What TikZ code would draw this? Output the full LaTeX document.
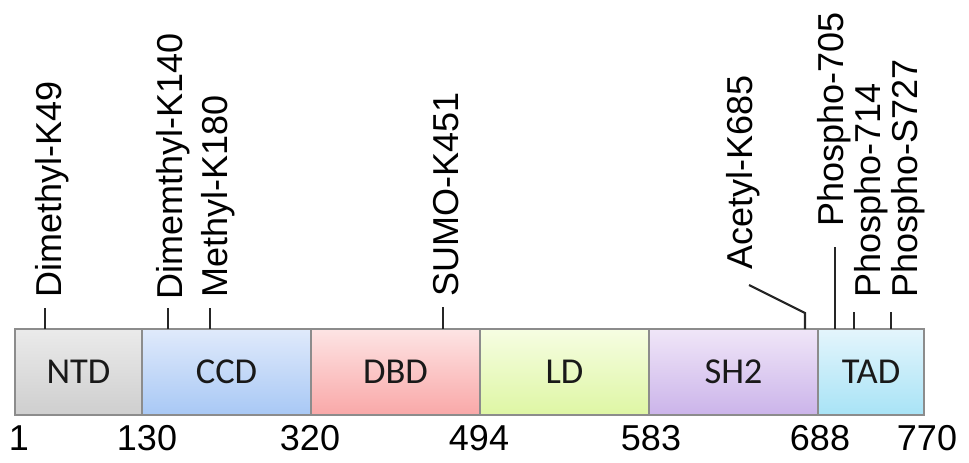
\documentclass[tikz,border=0pt]{standalone}
\usepackage{fontspec}
\setmainfont{Liberation Sans}
\newfontfamily\domfont{Carlito}
\begin{document}
\begin{tikzpicture}[x=1pt,y=-1pt,
  dom/.style={draw=black!45, line width=1.2pt, minimum height=86pt, inner sep=0pt,
     font=\domfont\fontsize{36.5}{40}\selectfont, text=black!90},
  ptm/.style={rotate=90, anchor=base west, inner sep=0pt, font=\fontsize{36}{40}\selectfont},
  num/.style={anchor=base, inner sep=0pt, font=\fontsize{36}{40}\selectfont},
  tick/.style={line width=2.2pt, draw=black!85}]
\useasboundingbox (0,0) rectangle (969,463);
% domains
\node[dom, top color=black!8, bottom color=black!19, minimum width=127pt] (ntd) at (78.5,372) {NTD};
\node[dom, top color={rgb,255:red,224;green,234;blue,251}, bottom color={rgb,255:red,168;green,200;blue,245}, minimum width=169pt] (ccd) at (226.5,372) {CCD};
\node[dom, top color={rgb,255:red,253;green,228;blue,228}, bottom color={rgb,255:red,249;green,168;blue,168}, minimum width=169pt] (dbd) at (395.5,372) {DBD};
\node[dom, top color={rgb,255:red,246;green,253;blue,226}, bottom color={rgb,255:red,222;green,246;blue,164}, minimum width=169pt] (ld) at (564.5,372) {LD};
\node[dom, top color={rgb,255:red,240;green,230;blue,248}, bottom color={rgb,255:red,203;green,180;blue,234}, minimum width=169pt] (sh2) at (733.5,372) {SH2};
\node[dom, top color={rgb,255:red,228;green,245;blue,252}, bottom color={rgb,255:red,168;green,227;blue,246}, minimum width=106pt] (tad) at (871,372) {TAD};
% positions
\node[num] (n1) at (19,450) {1};
\node[num] (n130) at (147,450) {130};
\node[num] (n320) at (310,450) {320};
\node[num] (n494) at (479,450) {494};
\node[num] (n583) at (651,450) {583};
\node[num] (n688) at (820,450) {688};
\node[num] (n770) at (927,450) {770};
% tick anchor points on the bar top
\coordinate (t49) at (45,329);
\coordinate (t140) at (168,329);
\coordinate (t180) at (210,329);
\coordinate (t451) at (443,329);
\coordinate (t685) at (805,329);
\coordinate (t705) at (835,329);
\coordinate (t714) at (854,329);
\coordinate (t727) at (891,329);
% labels
\node[ptm] (l49) at (61,298) {Dimethyl-K49};
\node[ptm] (l140) at (182,300) {Dimemthyl-K140};
\node[ptm] (l180) at (227,298) {Methyl-K180};
\node[ptm] (l451) at (458,297) {SUMO-K451};
\node[ptm] (l685) at (752,270) {Acetyl-K685};
\node[ptm] (l705) at (843,227) {Phospho-705};
\node[ptm] (l714) at (880,298) {Phospho-714};
\node[ptm] (l727) at (917,298) {Phospho-S727};
% connectors
\draw[tick] (t49) -- ++(0,-21);
\draw[tick] (t140) -- ++(0,-21);
\draw[tick] (t180) -- ++(0,-21);
\draw[tick] (t451) -- ++(0,-22);
\draw[tick] (t685) -- ++(0,-16) -- ++(-56,-28);
\draw[tick] (t705) -- ++(0,-82);
\draw[tick] (t714) -- ++(0,-17);
\draw[tick] (t727) -- ++(0,-17);
\end{tikzpicture}
\end{document}
